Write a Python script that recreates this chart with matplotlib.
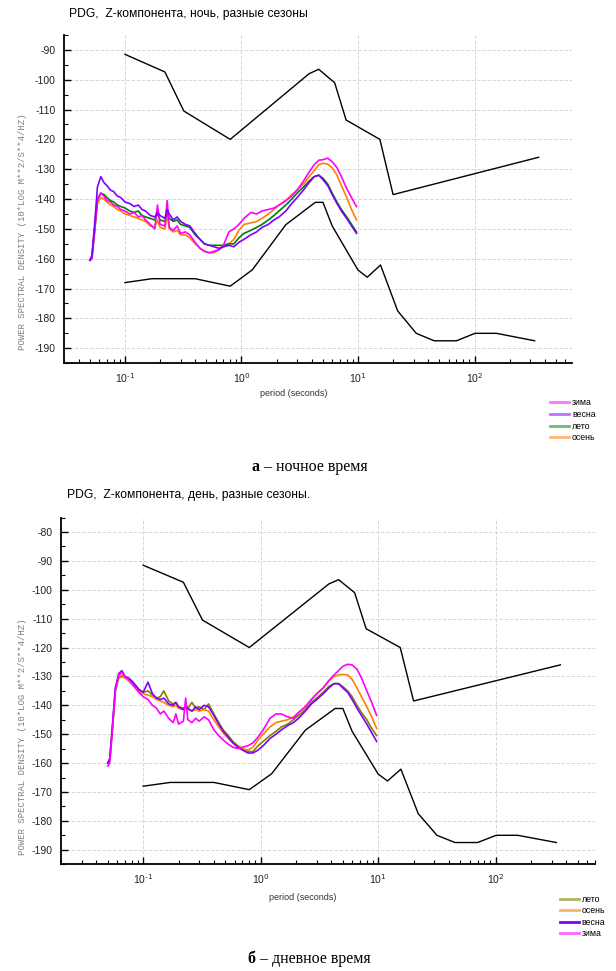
import matplotlib
matplotlib.use("Agg")
from matplotlib import pyplot as plt
from matplotlib.ticker import MultipleLocator, LogLocator, NullFormatter, FuncFormatter
import numpy as np

plt.rcParams['font.family'] = ['Liberation Sans', 'DejaVu Sans']
plt.rcParams['axes.unicode_minus'] = False

# Peterson noise models
nhnm_p = [0.1, 0.22, 0.32, 0.8, 3.8, 4.6, 6.3, 7.9, 15.4, 20.0, 354.8]
nhnm_db = [-91.5, -97.4, -110.5, -120.0, -98.0, -96.5, -101.0, -113.5, -120.0, -138.5, -126.0]
nlnm_p = [0.1, 0.17, 0.4, 0.8, 1.24, 2.4, 4.3, 5.0, 6.0, 10.0, 12.0, 15.6, 21.9, 31.6, 45.0, 70.0,
          101.0, 154.0, 328.0]
nlnm_db = [-168.0, -166.7, -166.7, -169.2, -163.7, -148.6, -141.1, -141.1, -149.0, -163.8, -166.2,
           -162.1, -177.5, -185.0, -187.5, -187.5, -185.0, -185.0, -187.5]

# periods (s) for station spectra
period = [0.050, 0.052, 0.055, 0.058, 0.062, 0.066, 0.070, 0.075, 0.080, 0.086, 0.092, 0.10, 0.11,
          0.12, 0.13, 0.14, 0.15, 0.165, 0.18, 0.19, 0.20, 0.22, 0.23, 0.24, 0.26, 0.28, 0.30, 0.33,
          0.36, 0.40, 0.44, 0.48, 0.53, 0.58, 0.64, 0.70, 0.78, 0.86, 0.95, 1.05, 1.2, 1.35, 1.5,
          1.7, 1.9, 2.1, 2.4, 2.7, 3.0, 3.4, 3.8, 4.2, 4.6, 5.0, 5.5, 6.0, 6.6, 7.2, 8.0, 8.8, 9.7]

# (а) night
night_vesna = [-160.5, -159, -148, -136, -132.5, -134.5, -135.5, -137, -137.5, -139, -139.5, -141,
               -141.5, -142.5, -142, -143.5, -144, -145.5, -146, -144.5, -145.5, -146.5, -143.5,
               -145, -147, -146, -147.5, -148.5, -149, -151.5, -153.5, -155, -155.5, -156, -156.5,
               -156, -155.5, -156, -154.5, -153.5, -152, -151, -149.5, -148.5, -147, -146, -144,
               -141.5, -139.5, -137, -134.5, -132.5, -132, -133.5, -135.5, -138.5, -141.5, -144,
               -146.5, -149, -151.5]
night_leto = [-160.5, -159.5, -150, -140, -138, -138.5, -139.5, -140.5, -141, -142, -142.5, -143,
              -144, -144.5, -144, -145.5, -146, -146.5, -147, -145, -147, -147.5, -144.5, -146.5,
              -147.5, -147, -148.5, -149, -149.5, -152, -153.5, -155, -155.5, -155.5, -155.5,
              -155.5, -155, -155, -153, -151.5, -150.5, -149.5, -148.5, -147, -145.5, -144, -142,
              -140, -138, -136, -134, -132.5, -132, -133, -135, -138, -141, -143.5, -146, -148.5,
              -151]
night_zima = [-160.5, -160, -150, -140.5, -138, -139, -140.5, -141, -142, -142.5, -143.5, -144,
              -145, -144.5, -146, -145.5, -147, -148.5, -150, -142, -148.5, -149, -140.5, -149.5,
              -150.5, -149, -151.5, -151, -152, -154.5, -156.5, -157.5, -158, -157.5, -157, -155.5,
              -151, -150, -148.5, -146.5, -144.5, -145, -144, -143.5, -143, -142, -140.5, -139,
              -137, -134, -131, -128.5, -127, -126.8, -126.3, -127.5, -129.5, -132.5, -136.5,
              -139.5, -142.5]
night_osen = [-160.5, -160, -151, -141.5, -139.5, -140, -141, -142, -142.5, -143.5, -144, -145,
              -145.5, -146, -146.5, -147, -147.5, -149, -149.5, -147, -149.5, -150, -145.5, -150,
              -151, -150.5, -152, -152, -153, -155, -156.5, -157.5, -158, -158, -157, -156, -155,
              -153.5, -150.5, -148.5, -148, -147.5, -146.5, -145, -143.5, -142, -140.5, -138.5,
              -137, -135, -132.5, -130.5, -128.5, -128, -128.3, -129.5, -132, -135.5, -139.5,
              -143.5, -147]

# (б) day
day_leto = [-160, -158.5, -147, -135, -130.5, -130, -130.5, -131, -132, -133.5, -134.5, -135.5,
            -135, -136.5, -137.5, -137, -135, -138.5, -139.5, -139, -140.5, -141, -140.5, -141,
            -139, -141, -140.5, -141.5, -139.5, -143, -146, -148.5, -150.5, -152.5, -154, -155,
            -156, -156, -154, -152.5, -150.5, -149, -147.5, -146.5, -145, -143.5, -141.5, -139,
            -137.5, -135.5, -133.5, -132.5, -132.5, -133.5, -135, -137, -140, -142.5, -145, -148,
            -150.5]
day_osen = [-160, -158.5, -147, -134.5, -130, -129.5, -130.5, -131.5, -132.5, -134, -135, -136,
            -136.5, -137, -138, -138.5, -139, -140, -140.5, -140, -141, -141.5, -141, -141.5, -142,
            -141.5, -142, -141.5, -142, -145, -147.5, -149.5, -151.5, -153, -154.5, -155, -155.5,
            -154.5, -152, -150, -147.5, -146, -145.5, -145, -144, -142.5, -140.5, -138, -136, -134,
            -131.5, -130, -129.5, -129.3, -129.5, -131, -134, -137, -140.5, -144, -148]
day_vesna = [-160, -158.5, -146, -134, -129, -128, -130, -130.5, -131.5, -133, -134.5, -135.5,
             -132, -136, -137.5, -138, -137.5, -139.5, -140, -139, -140.5, -141.5, -140, -141, -142,
             -140.5, -141.5, -140, -140.5, -143.5, -146.5, -149, -151, -153, -154.5, -155.5,
             -156.5, -156.5, -155.5, -154, -151.5, -150, -148.5, -147, -146, -144.5, -142, -139.5,
             -138, -136, -134, -132.5, -132.5, -134, -135.5, -138, -141, -143.5, -146.5, -149.5,
             -152.5]
day_zima = [-161, -160, -148, -135, -129.5, -128.5, -130, -131, -132.5, -134, -135.5, -137, -138,
            -140, -141, -143, -142, -144.5, -146, -143, -146.5, -145.5, -137.5, -145, -146, -144.5,
            -145.5, -144, -145, -148.5, -150.5, -152, -153.5, -154.5, -155, -154.5, -154, -153,
            -151, -148.5, -144.5, -143, -143, -144, -144.5, -142.5, -140.5, -138, -136, -134,
            -131.5, -129.5, -128, -126.5, -125.8, -126, -127.5, -130.5, -135, -139, -143.5]

C_ZIMA = '#ff00ff'
C_VESNA = '#7f00ff'
C_OSEN = '#ff8000'

fig = plt.figure(figsize=(6.16, 9.71), dpi=100)


def pow10(v, pos):
    return '10$^{\\text{%d}}$' % int(round(np.log10(v)))


def style_axes(ax, xlim, ylim, yticks):
    ax.set_xscale('log')
    ax.set_xlim(*xlim)
    ax.set_ylim(*ylim)
    ax.set_yticks(yticks)
    ax.yaxis.set_minor_locator(MultipleLocator(5))
    ax.xaxis.set_major_locator(LogLocator(base=10, numticks=20))
    ax.xaxis.set_major_formatter(FuncFormatter(pow10))
    ax.xaxis.set_minor_locator(LogLocator(base=10, subs=range(2, 10), numticks=20))
    ax.xaxis.set_minor_formatter(NullFormatter())
    for s in ['top', 'right']:
        ax.spines[s].set_visible(False)
    for s in ['left', 'bottom']:
        ax.spines[s].set_linewidth(1.3)
    ax.tick_params(which='major', direction='in', length=5, width=1, labelsize=7.5, pad=6,
                   labelcolor='#222222')
    ax.tick_params(which='minor', direction='in', length=3, width=0.8)
    ax.grid(True, which='major', color='#d8d8d8', linestyle='--', linewidth=0.7)
    ax.set_axisbelow(True)


# ---- panel а ----
ax1 = fig.add_axes([0.104, 0.626, 0.825, 0.338])
style_axes(ax1, (0.03, 690), (-195, -85), range(-190, -85, 10))
ax1.plot(nhnm_p, nhnm_db, color='black', lw=1)
ax1.plot(nlnm_p, nlnm_db, color='black', lw=1)
ax1.plot(period, night_osen, color=C_OSEN, lw=1.2, label='осень')
ax1.plot(period, night_leto, color='#008000', lw=1.2, label='лето')
ax1.plot(period, night_zima, color=C_ZIMA, lw=1.2, label='зима')
ax1.plot(period, night_vesna, color=C_VESNA, lw=1.2, label='весна')
h, l = ax1.get_legend_handles_labels()
order = [2, 3, 1, 0]
leg = fig.legend([h[i] for i in order], [l[i] for i in order], loc='upper left',
                 bbox_to_anchor=(0.883, 0.596), frameon=False, fontsize=6.3, handlelength=2.2,
                 handletextpad=0.3, labelspacing=0.3, borderpad=0.2)
for lh in leg.get_lines():
    lh.set_linewidth(2)
    lh.set_alpha(0.55)

fig.text(0.112, 0.986, 'PDG,  Z-компонента, ночь, разные сезоны', fontsize=8.7, va='center')
fig.text(0.476, 0.595, 'period (seconds)', fontsize=6.5, ha='center', va='center', color='#333333')
fig.text(0.036, 0.761, 'POWER SPECTRAL DENSITY (10*LOG M**2/S**4/HZ)', rotation=90,
         family='Liberation Mono', fontsize=6.5, color='#808080', ha='center', va='center')
fig.text(0.422, 0.519, 'а', family='Liberation Serif', fontweight='bold', fontsize=11.5,
         ha='right', va='center')
fig.text(0.422, 0.519, ' – ночное время', family='Liberation Serif', fontsize=11.5,
         ha='left', va='center')

# ---- panel б ----
ax2 = fig.add_axes([0.099, 0.110, 0.867, 0.357])
style_axes(ax2, (0.02, 700), (-195, -75), range(-190, -75, 10))
ax2.plot(nhnm_p, nhnm_db, color='black', lw=1)
ax2.plot(nlnm_p, nlnm_db, color='black', lw=1)
ax2.plot(period, day_leto, color='#808000', lw=1.2, label='лето')
ax2.plot(period, day_osen, color=C_OSEN, lw=1.2, label='осень')
ax2.plot(period, day_vesna, color=C_VESNA, lw=1.2, label='весна')
ax2.plot(period, day_zima, color=C_ZIMA, lw=1.2, label='зима')
leg2 = fig.legend(*ax2.get_legend_handles_labels(), loc='upper left',
                  bbox_to_anchor=(0.899, 0.085), frameon=False, fontsize=6.3, handlelength=2.2,
                  handletextpad=0.3, labelspacing=0.3, borderpad=0.2)
for i, lh in enumerate(leg2.get_lines()):
    lh.set_linewidth(2)
    lh.set_alpha(1.0 if i == 2 else 0.6)

fig.text(0.109, 0.490, 'PDG,  Z-компонента, день, разные сезоны.', fontsize=8.7, va='center')
fig.text(0.492, 0.076, 'period (seconds)', fontsize=6.5, ha='center', va='center', color='#333333')
fig.text(0.036, 0.241, 'POWER SPECTRAL DENSITY (10*LOG M**2/S**4/HZ)', rotation=90,
         family='Liberation Mono', fontsize=6.5, color='#808080', ha='center', va='center')
fig.text(0.415, 0.012, 'б', family='Liberation Serif', fontweight='bold', fontsize=11.5,
         ha='right', va='center')
fig.text(0.415, 0.012, ' – дневное время', family='Liberation Serif', fontsize=11.5,
         ha='left', va='center')

fig.savefig('out.png', dpi=100)
